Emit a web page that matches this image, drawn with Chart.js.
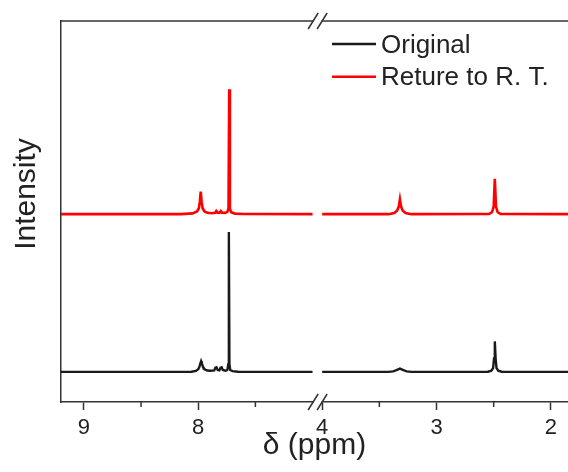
<!DOCTYPE html>
<html>
<head>
<meta charset="utf-8">
<script src="https://cdn.jsdelivr.net/npm/chart.js@4.4.1/dist/chart.umd.min.js"></script>
<style>
  html, body { margin: 0; padding: 0; background: #fff; }
  #wrap { width: 568px; height: 472px; }
</style>
</head>
<body>
<div id="wrap"><canvas id="nmr"></canvas></div>
<script>
// chemical shift (ppm) and intensity above each trace's own baseline
// null splits the two pieces of the broken axis
var origPpm = [9.20, 8.20, 8.06, 8.02, 8.00, 7.99, 7.982, 7.975, 7.968, 7.958, 7.945, 7.92, 7.89, 7.86, 7.85, 7.84, 7.83, 7.815, 7.805, 7.795, 7.785, 7.76, 7.745, 7.737, 7.732, 7.727, 7.72, 7.70, 7.65, 7.50, 7.00,
    null,
    4.00, 3.42, 3.38, 3.35, 3.32, 3.29, 3.26, 3.22, 2.55, 2.52, 2.505, 2.497, 2.49, 2.483, 2.475, 2.46, 2.43, 1.85];
var origInt = [0, 0, 0.05, 0.25, 0.7, 1.3, 2.2, 2.8, 2.2, 1.3, 0.7, 0.35, 0.3, 0.4, 1.1, 1.2, 0.5, 0.4, 1.1, 1.2, 0.5, 0.3, 0.5, 2.0, 36.7, 2.0, 0.5, 0.2, 0.05, 0, 0,
    null,
    0, 0, 0.15, 0.45, 0.85, 0.45, 0.15, 0, 0.05, 0.3, 1.0, 3.5, 8.0, 3.5, 1.0, 0.3, 0.05, 0];

var retPpm = [9.20, 8.15, 8.05, 8.01, 7.995, 7.986, 7.978, 7.970, 7.961, 7.945, 7.92, 7.88, 7.852, 7.842, 7.832, 7.812, 7.802, 7.792, 7.765, 7.745, 7.735, 7.729, 7.723, 7.712, 7.68, 7.60, 7.00,
    null,
    4.00, 3.42, 3.37, 3.345, 3.33, 3.32, 3.31, 3.295, 3.27, 3.22, 2.54, 2.515, 2.50, 2.49, 2.48, 2.465, 2.44, 1.85];
var retInt = [0, 0, 0.2, 0.7, 1.5, 3.2, 5.9, 3.2, 1.5, 0.7, 0.35, 0.25, 0.35, 0.8, 0.4, 0.4, 0.8, 0.4, 0.35, 0.6, 1.5, 32.8, 1.5, 0.5, 0.15, 0.05, 0,
    null,
    0, 0, 0.3, 0.9, 2.0, 3.9, 2.0, 0.9, 0.3, 0, 0.05, 0.5, 2.0, 9.3, 2.0, 0.5, 0.05, 0];

var seriesNames = ['Original', 'Reture to R. T.'];
var tickPpm = [9, 8, 4, 3, 2];
var minorPpm = [8.5, 7.5, 3.5, 2.5];

// vertical offsets of the stacked traces
var ORIG_BASE = 7.9;
var RET_BASE = 49.3;

// axis break: the 7.0 - 4.0 region is cut out
var SHIFT = 2.916;
var BREAK_AT = 6.96;
function toAxis(p) { return p > 5 ? p : p + SHIFT; }
function fromAxis(u) { return u > BREAK_AT ? u : u - SHIFT; }

function buildPoints(ppm, inten, base) {
    var pts = [];
    for (var i = 0; i < ppm.length; i++) {
        if (ppm[i] === null) {
            pts.push({ x: BREAK_AT, y: null });
        } else {
            pts.push({ x: toAxis(ppm[i]), y: inten[i] + base });
        }
    }
    return pts;
}

var FONT = '"Liberation Sans", Arial, sans-serif';
var AXIS_COLOR = '#333';
var TEXT_COLOR = '#222';
Chart.defaults.font.family = FONT;
Chart.defaults.color = TEXT_COLOR;

var decor = {
    id: 'decor',
    afterDraw: function (chart) {
        var ctx = chart.ctx;
        var a = chart.chartArea;
        var xs = chart.scales.x;
        ctx.save();
        ctx.strokeStyle = AXIS_COLOR;
        ctx.lineWidth = 1.5;

        // top frame line
        ctx.beginPath();
        ctx.moveTo(a.left, a.top);
        ctx.lineTo(a.right, a.top);
        ctx.stroke();

        // minor ticks
        minorPpm.forEach(function (p) {
            var x = xs.getPixelForValue(toAxis(p));
            ctx.beginPath();
            ctx.moveTo(x, a.bottom);
            ctx.lineTo(x, a.bottom + 5);
            ctx.stroke();
        });

        // break marks on top and bottom axes
        var bx = xs.getPixelForValue(BREAK_AT);
        [a.top, a.bottom].forEach(function (y) {
            ctx.fillStyle = '#fff';
            ctx.fillRect(bx - 3.5, y - 2, 8, 4);
            ctx.beginPath();
            ctx.moveTo(bx - 9, y + 8);
            ctx.lineTo(bx + 1, y - 8);
            ctx.moveTo(bx, y + 8);
            ctx.lineTo(bx + 10, y - 8);
            ctx.stroke();
        });

        // y title
        ctx.save();
        ctx.translate(35, 194);
        ctx.rotate(-Math.PI / 2);
        ctx.fillStyle = TEXT_COLOR;
        ctx.font = '30px ' + FONT;
        ctx.textAlign = 'center';
        ctx.textBaseline = 'alphabetic';
        ctx.fillText('Intensity', 0, 0);
        ctx.restore();

        // legend
        var rows = [44, 76.7];
        var order = [1, 0];
        ctx.font = '26px ' + FONT;
        ctx.textAlign = 'left';
        ctx.textBaseline = 'alphabetic';
        order.forEach(function (di, r) {
            var ds = chart.data.datasets[di];
            ctx.strokeStyle = ds.borderColor;
            ctx.lineWidth = 2.5;
            ctx.beginPath();
            ctx.moveTo(332, rows[r]);
            ctx.lineTo(376, rows[r]);
            ctx.stroke();
            ctx.fillStyle = TEXT_COLOR;
            ctx.fillText(ds.label, 381, rows[r] + 8.7);
        });
        ctx.restore();
    }
};

new Chart(document.getElementById('nmr'), {
    type: 'line',
    data: {
        datasets: [
            {
                label: seriesNames[1],
                data: buildPoints(retPpm, retInt, RET_BASE),
                borderColor: '#ff0000',
                borderWidth: 2.6,
                pointRadius: 0,
                tension: 0,
                spanGaps: false,
                fill: false
            },
            {
                label: seriesNames[0],
                data: buildPoints(origPpm, origInt, ORIG_BASE),
                borderColor: '#1a1a1a',
                borderWidth: 2.4,
                pointRadius: 0,
                tension: 0,
                spanGaps: false,
                fill: false
            }
        ]
    },
    options: {
        responsive: true,
        maintainAspectRatio: false,
        animation: false,
        devicePixelRatio: 1,
        layout: { padding: { top: 21, right: 0, bottom: 0, left: 0 } },
        plugins: {
            legend: { display: false },
            tooltip: { enabled: false }
        },
        scales: {
            x: {
                type: 'linear',
                reverse: true,
                min: toAxis(1.85),
                max: 9.2,
                afterBuildTicks: function (scale) {
                    scale.ticks = tickPpm.map(function (p) { return { value: toAxis(p) }; });
                },
                afterFit: function (scale) { scale.height = 70; },
                ticks: {
                    autoSkip: false,
                    maxRotation: 0,
                    padding: 5,
                    font: { size: 22 },
                    color: TEXT_COLOR,
                    callback: function (value) { return String(Math.round(fromAxis(value))); }
                },
                grid: {
                    drawOnChartArea: false,
                    drawTicks: true,
                    tickLength: 8,
                    tickWidth: 1.5,
                    tickColor: AXIS_COLOR
                },
                border: { display: true, color: AXIS_COLOR, width: 1.5 },
                title: {
                    display: true,
                    text: 'δ (ppm)',
                    font: { size: 30 },
                    color: TEXT_COLOR,
                    padding: { top: 0, bottom: 8 }
                }
            },
            y: {
                min: 0,
                max: 100,
                afterFit: function (scale) { scale.width = 61; },
                ticks: { display: false },
                grid: { display: false, drawTicks: false },
                border: { display: true, color: AXIS_COLOR, width: 1.5 }
            }
        }
    },
    plugins: [decor]
});
</script>
</body>
</html>
